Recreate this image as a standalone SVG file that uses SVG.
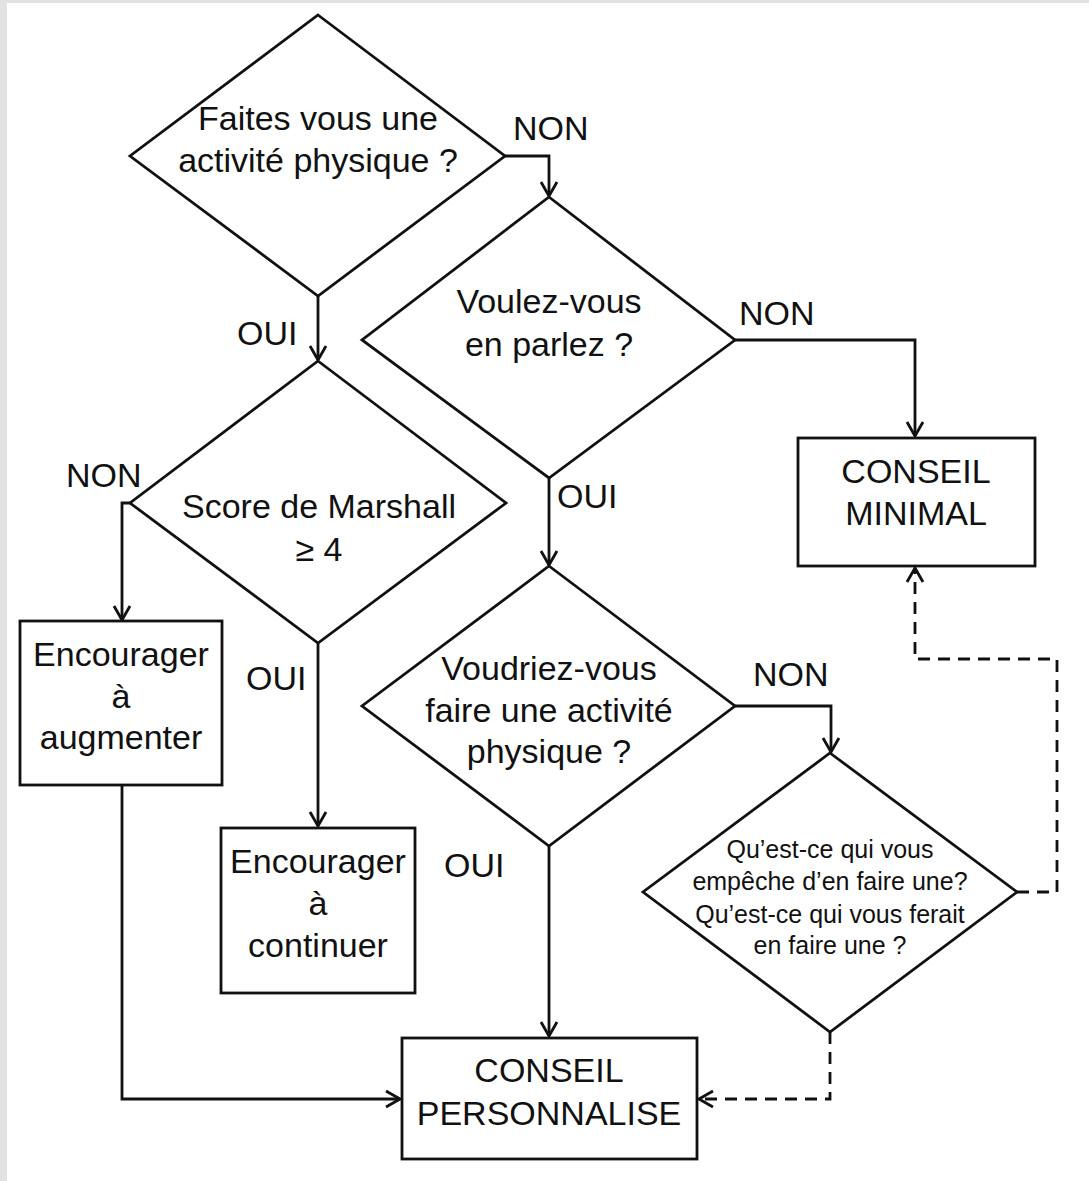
<svg xmlns="http://www.w3.org/2000/svg" width="1089" height="1181" viewBox="0 0 1089 1181">
<defs>
<style>
.shape{fill:#fff;stroke:#111;stroke-width:2.8}
.line{fill:none;stroke:#111;stroke-width:2.8}
.dash{fill:none;stroke:#111;stroke-width:2.8;stroke-dasharray:12 8}
.t{font-family:"Liberation Sans",Arial,sans-serif;font-size:34px;fill:#111;text-anchor:middle}
.s{font-family:"Liberation Sans",Arial,sans-serif;font-size:25px;fill:#111;text-anchor:middle}
.lbl{font-family:"Liberation Sans",Arial,sans-serif;font-size:34px;fill:#111}
</style>
<marker id="arr" viewBox="-16 -10 18 20" markerWidth="18" markerHeight="20" refX="0" refY="0" markerUnits="userSpaceOnUse" orient="auto">
<path d="M-14,-8 L0,0 L-14,8" fill="none" stroke="#111" stroke-width="2.8"/>
</marker>
</defs>
<rect x="0" y="0" width="1089" height="1181" fill="#fff"/>
<rect x="0" y="0" width="1089" height="3" fill="#e2e2e2"/>
<rect x="0" y="0" width="7" height="1181" fill="#e2e2e2"/>

<g id="connectors">
<polyline class="line" points="505,156 549,156 549,196" marker-end="url(#arr)"/>
<polyline class="line" points="318,296 318,360" marker-end="url(#arr)"/>
<polyline class="line" points="735,340 915,340 915,436" marker-end="url(#arr)"/>
<polyline class="line" points="549,478 549,565" marker-end="url(#arr)"/>
<polyline class="line" points="130,503 122,503 122,620" marker-end="url(#arr)"/>
<polyline class="line" points="318,643 318,826" marker-end="url(#arr)"/>
<polyline class="line" points="122,785 122,1099 400,1099" marker-end="url(#arr)"/>
<polyline class="line" points="735,706 831,706 831,752" marker-end="url(#arr)"/>
<polyline class="line" points="549,846 549,1036" marker-end="url(#arr)"/>
<polyline class="dash" points="1017,892 1057,892 1057,659 915,659 915,568" marker-end="url(#arr)"/>
<polyline class="dash" points="830,1032 830,1099 699,1099" marker-end="url(#arr)"/>
<text class="lbl" x="513" y="140">NON</text>
<text class="lbl" x="237" y="345">OUI</text>
<text class="lbl" x="739" y="325">NON</text>
<text class="lbl" x="66" y="487">NON</text>
<text class="lbl" x="557" y="508">OUI</text>
<text class="lbl" x="246" y="690">OUI</text>
<text class="lbl" x="753" y="686">NON</text>
<text class="lbl" x="444" y="877">OUI</text>
</g>

<g id="q1">
<polygon class="shape" points="318,15 505,156 318,296 130,156"/>
<text class="t" x="318" y="130">Faites vous une</text>
<text class="t" x="318" y="172">activité physique ?</text>
</g>

<g id="q2">
<polygon class="shape" points="549,197 735,340 549,478 362,340"/>
<text class="t" x="549" y="313">Voulez-vous</text>
<text class="t" x="549" y="356">en parlez ?</text>
</g>

<g id="marshall">
<polygon class="shape" points="318,361 506,503 318,643 130,503"/>
<text class="t" x="319" y="518">Score de Marshall</text>
<text class="t" x="319" y="561">≥ 4</text>
</g>

<g id="augmenter">
<rect class="shape" x="20" y="621" width="202" height="164"/>
<text class="t" x="121" y="666">Encourager</text>
<text class="t" x="121" y="708">à</text>
<text class="t" x="121" y="749">augmenter</text>
</g>

<g id="continuer">
<rect class="shape" x="221" y="828" width="194" height="165"/>
<text class="t" x="318" y="873">Encourager</text>
<text class="t" x="318" y="915">à</text>
<text class="t" x="318" y="957">continuer</text>
</g>

<g id="minimal">
<rect class="shape" x="798" y="438" width="237" height="128"/>
<text class="t" x="916" y="483">CONSEIL</text>
<text class="t" x="916" y="525">MINIMAL</text>
</g>

<g id="q3">
<polygon class="shape" points="549,566 735,706 549,846 362,706"/>
<text class="t" x="549" y="680">Voudriez-vous</text>
<text class="t" x="549" y="722">faire une activité</text>
<text class="t" x="549" y="763">physique ?</text>
</g>

<g id="q4">
<polygon class="shape" points="830,753 1017,892 830,1032 643,892"/>
<text class="s" x="830" y="858">Qu’est-ce qui vous</text>
<text class="s" x="830" y="890">empêche d’en faire une?</text>
<text class="s" x="830" y="923">Qu’est-ce qui vous ferait</text>
<text class="s" x="830" y="954">en faire une ?</text>
</g>

<g id="personnalise">
<rect class="shape" x="402" y="1038" width="295" height="121"/>
<text class="t" x="549" y="1082">CONSEIL</text>
<text class="t" x="549" y="1125">PERSONNALISE</text>
</g>
</svg>
